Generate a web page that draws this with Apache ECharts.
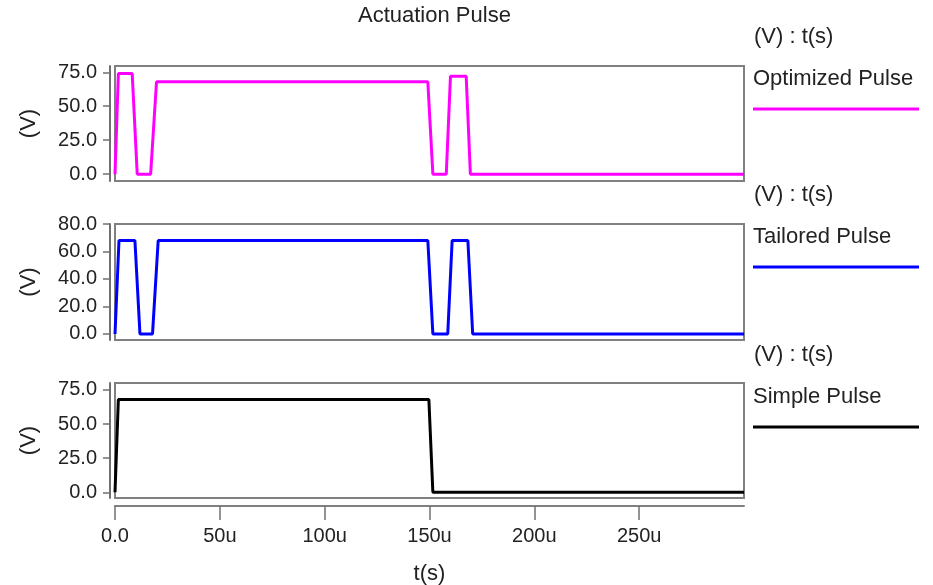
<!DOCTYPE html>
<html>
<head>
<meta charset="utf-8">
<script src="https://cdn.jsdelivr.net/npm/echarts@6/dist/echarts.min.js"></script>
<style>
  html, body { margin: 0; padding: 0; background: #fff; }
  #chart { width: 933px; height: 585px; }
</style>
</head>
<body>
<div id="chart"></div>
<script>
// time in microseconds, voltage in V
const optTime = [0, 1.6, 8.2, 10.6, 17, 19.8, 149.2, 151.6, 158, 160, 167.5, 169.5, 300];
const optVolt = [0, 74, 74, 0, 0, 68, 68, 0, 0, 72, 72, 0, 0];

const tailTime = [0, 1.9, 9.5, 11.9, 17.9, 20.6, 149.2, 151.6, 158.7, 160.8, 168.3, 170.6, 300];
const tailVolt = [0, 68, 68, 0, 0, 68, 68, 0, 0, 68, 68, 0, 0];

const simpTime = [0, 1.6, 149.7, 151.6, 300];
const simpVolt = [0, 68, 68, 0, 0];

const seriesNames = ['Optimized Pulse', 'Tailored Pulse', 'Simple Pulse'];
const seriesColors = ['#ff00ff', '#0000ff', '#000000'];

const yTicksA = [0, 25, 50, 75];
const yTicksB = [0, 20, 40, 60, 80];
const xTicks = [0, 50, 100, 150, 200, 250];

const FONT = 'Liberation Sans';
const TXT = '#222';

function pairs(t, v) {
  return t.map(function (x, i) { return [x, v[i]]; });
}

let chart = echarts.init(document.getElementById('chart'));

const grids = [
  { left: 115, right: 189, top: 66, height: 115 },
  { left: 115, right: 189, top: 224, height: 116 },
  { left: 115, right: 189, top: 383, height: 115 }
].map(function (g) {
  return Object.assign(g, {
    show: true, borderColor: '#808080', borderWidth: 2, backgroundColor: '#fff',
    containLabel: false, outerBoundsMode: 'none'
  });
});

function yAxis(idx, min, max, ticks) {
  return {
    type: 'value', gridIndex: idx, min: min, max: max,
    position: 'left', offset: 5,
    name: '(V)', nameLocation: 'middle', nameGap: 70, nameRotate: 90,
    nameTextStyle: { fontFamily: FONT, fontSize: 22, color: TXT },
    splitLine: { show: false },
    axisLine: { show: true, onZero: false, lineStyle: { color: '#707070', width: 2 } },
    axisTick: { show: true, length: 7, customValues: ticks, lineStyle: { color: '#707070', width: 1.5 } },
    axisLabel: {
      customValues: ticks, margin: 13, fontFamily: FONT, fontSize: 20, color: TXT,
      formatter: function (v) { return v.toFixed(1); }
    }
  };
}

function xAxis(idx, visible) {
  return {
    type: 'value', gridIndex: idx, min: 0, max: 300,
    show: visible,
    position: 'bottom', offset: 8,
    name: 't(s)', nameLocation: 'middle', nameGap: 57,
    nameTextStyle: { fontFamily: FONT, fontSize: 22, color: TXT },
    splitLine: { show: false },
    axisLine: { show: true, onZero: false, lineStyle: { color: '#808080', width: 2 } },
    axisTick: { show: true, length: 14, customValues: xTicks, lineStyle: { color: '#707070', width: 1.5 } },
    axisLabel: {
      customValues: xTicks, margin: 20, fontFamily: FONT, fontSize: 20, color: TXT,
      formatter: function (v) { return v === 0 ? '0.0' : v + 'u'; }
    }
  };
}

const data = [pairs(optTime, optVolt), pairs(tailTime, tailVolt), pairs(simpTime, simpVolt)];

// legend text blocks on the right of each panel
const legendTop = [37, 195, 355];
let graphics = [{
  type: 'text', left: 358, top: 5,
  style: { text: 'Actuation Pulse', fontFamily: FONT, fontSize: 22, fill: TXT }
}];
legendTop.forEach(function (y, i) {
  graphics.push({
    type: 'text', x: 754, y: y, style: { text: '(V) : t(s)', fontFamily: FONT, fontSize: 22, fill: TXT, verticalAlign: 'middle' }
  });
  graphics.push({
    type: 'text', x: 753, y: y + 42, style: { text: seriesNames[i], fontFamily: FONT, fontSize: 22, fill: TXT, verticalAlign: 'middle' }
  });
  graphics.push({
    type: 'line', shape: { x1: 753, y1: y + 72, x2: 919, y2: y + 72 },
    style: { stroke: seriesColors[i], lineWidth: 3 }
  });
});

let option = {
  backgroundColor: '#fff',
  animation: false,
  grid: grids,
  xAxis: [xAxis(0, false), xAxis(1, false), xAxis(2, true)],
  yAxis: [
    yAxis(0, -5.0, 79.6, yTicksA),
    yAxis(1, -4.4, 80, yTicksB),
    yAxis(2, -4.2, 80.1, yTicksA)
  ],
  series: data.map(function (d, i) {
    return {
      name: seriesNames[i], type: 'line', xAxisIndex: i, yAxisIndex: i,
      data: d, showSymbol: false, symbol: 'none',
      lineStyle: { color: seriesColors[i], width: 3 }
    };
  }),
  graphic: graphics
};

chart.setOption(option);
</script>
</body>
</html>
